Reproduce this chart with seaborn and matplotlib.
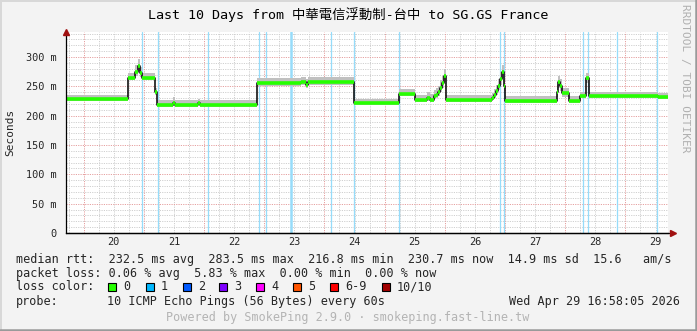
import matplotlib
matplotlib.use("Agg")
import matplotlib.pyplot as plt
import seaborn as sns
import pandas as pd
import numpy as np
from matplotlib.patches import Rectangle

# ---------------- data ----------------
# time in days of the month (April), step-post breakpoints
times = [19.707, 20.733, 20.85, 20.9, 20.933, 20.967, 21.183, 21.217, 21.49, 21.51,
         21.90, 21.93, 22.883, 23.617, 23.70, 23.73, 24.483, 25.233, 25.5, 25.70,
         25.75, 25.817, 25.85, 25.883, 25.917, 25.95, 25.983, 26.017, 26.783, 26.817,
         26.85, 26.883, 26.917, 26.95, 26.983, 27.0, 27.867, 27.883, 27.917, 27.95,
         28.067, 28.25, 28.35, 28.4, 29.533, 29.707]
median_ms = [228, 265, 275, 284, 272, 264, 240, 218, 221, 218,
             222, 218, 255, 257, 252, 257, 221, 237, 226, 230,
             227, 233, 236, 240, 248, 256, 267, 226, 230, 236,
             242, 250, 262, 275, 250, 225, 240, 257, 250, 238,
             225, 233, 265, 233, 231, 231]
smoke_hi = [236, 273, 286, 297, 283, 272, 248, 226, 231, 226,
            229, 226, 265, 266, 262, 266, 229, 246, 236, 240,
            237, 244, 247, 251, 260, 268, 280, 235, 239, 245,
            252, 262, 274, 286, 262, 234, 252, 268, 262, 248,
            233, 240, 272, 240, 238, 238]
smoke_lo = [225, 261, 268, 276, 266, 260, 235, 215, 217, 215,
            218, 215, 251, 253, 248, 253, 218, 234, 223, 225,
            223, 228, 230, 234, 241, 248, 257, 223, 226, 230,
            236, 243, 253, 264, 242, 222, 232, 248, 242, 232,
            222, 230, 256, 230, 228, 228]
loss_times = [20.967, 21.228, 22.072, 22.912, 23.022, 23.45, 24.105, 24.495,
              25.245, 26.922, 26.978, 28.295, 28.372, 28.855, 29.522]
loss_widths = [1, 1, 1, 1, 1, 2, 1, 1, 1, 1, 1, 1, 1, 1, 1]
day_labels = ["20", "21", "22", "23", "24", "25", "26", "27", "28", "29"]
y_ticks = [0, 50, 100, 150, 200, 250, 300]
y_tick_labels = ["0", "50 m", "100 m", "150 m", "200 m", "250 m", "300 m"]

loss_names = ["0", "1", "2", "3", "4", "5", "6-9", "10/10"]
loss_colors = ["#26ff00", "#00b8ff", "#0059ff", "#7e00ff", "#ff00ff", "#ff5500", "#ff0000", "#a10000"]

title = "Last 10 Days from 中華電信浮動制-台中 to SG.GS France"
line_rtt = "median rtt:  232.5 ms avg  283.5 ms max  216.8 ms min  230.7 ms now  14.9 ms sd  15.6   am/s"
line_loss = "packet loss: 0.06 % avg  5.83 % max  0.00 % min  0.00 % now"
probe_txt = "10 ICMP Echo Pings (56 Bytes) every 60s"
date_txt = "Wed Apr 29 16:58:05 2026"
powered_txt = "Powered by SmokePing 2.9.0 · smokeping.fast-line.tw"
watermark = "RRDTOOL / TOBI OETIKER"

# ---------------- figure ----------------
sns.set_style("white")
MONO = ["DejaVu Sans Mono", "Noto Sans CJK TC"]
plt.rcParams["font.family"] = MONO

W, H = 697, 331
BG = "#f3f3f3"
fig = plt.figure(figsize=(W / 100, H / 100), dpi=100, facecolor=BG)

def fx(px):
    return px / W

def fy(py):
    return 1 - py / H

# frame
fig.add_artist(plt.Line2D([fx(0.5), fx(0.5)], [0, 1], color="#d8d8d8", lw=1.4))
fig.add_artist(plt.Line2D([0, 1], [fy(0.5), fy(0.5)], color="#d8d8d8", lw=1.4))
fig.add_artist(plt.Line2D([0, 1], [fy(330), fy(330)], color="#9a9a9a", lw=1.8))
fig.add_artist(plt.Line2D([fx(696), fx(696)], [0, 1], color="#9a9a9a", lw=1.8))

x0, x1 = 66, 668
y0, y1 = 233, 32
ax = fig.add_axes([fx(x0), fy(y0), fx(x1 - x0), fy(y1) - fy(y0)])
ax.set_facecolor("white")
xmin, xmax = 19.707, 29.707
ymax = 342.6
ax.set_xlim(xmin, xmax)
ax.set_ylim(0, ymax)

# grid
for v in np.arange(10, ymax, 10):
    if v % 50 == 0:
        continue
    ax.axhline(v, color="#d0d0d0", lw=0.7, ls=(0, (1.2, 1.2)), zorder=0)
for v in range(50, 341, 50):
    ax.axhline(v, color="#e6a0a0", lw=0.7, ls=(0, (1.2, 1.2)), zorder=0.5)
for d in np.arange(19.75, xmax, 0.25):
    if abs(d - round(d)) < 1e-6:
        continue
    ax.axvline(d, color="#d0d0d0", lw=0.7, ls=(0, (1.2, 1.2)), zorder=0)
for d in range(20, 30):
    ax.axvline(d, color="#e6a0a0", lw=0.7, ls=(0, (1.2, 1.2)), zorder=0.5)

# loss lines
for t, w in zip(loss_times, loss_widths):
    ax.axvline(t, color="#96dcfa", lw=0.9 * w, zorder=1)

# smoke
df = pd.DataFrame({"t": times, "median": median_ms, "hi": smoke_hi, "lo": smoke_lo})
ax.fill_between(df["t"], df["lo"], df["hi"], step="post", color="#c0c0c0", lw=0, zorder=2)

# median line: black transitions, green levels
sns.lineplot(data=df, x="t", y="median", ax=ax, drawstyle="steps-post", color="black",
             lw=1.1, zorder=3, legend=False)
ax.hlines(df["median"][:-1], df["t"][:-1], df["t"][1:], color="#26ff00", lw=2.6, zorder=4)

# axes styling
for s in ["top", "right"]:
    ax.spines[s].set_visible(False)
for s in ["left", "bottom"]:
    ax.spines[s].set_color("black")
    ax.spines[s].set_linewidth(0.9)
    ax.spines[s].set_zorder(6)
ax.plot([0], [1.0], marker="^", color="#a01010", ms=4.5, transform=ax.transAxes, clip_on=False, zorder=7)
ax.plot([1.008], [0], marker=">", color="#a01010", ms=4.5, transform=ax.transAxes, clip_on=False, zorder=7)
ax.plot([0, 1.008], [0, 0], color="black", lw=0.9, transform=ax.transAxes, clip_on=False, zorder=6)

ax.set_yticks(y_ticks)
ax.set_yticklabels(y_tick_labels)
ax.set_xticks(range(20, 30))
ax.set_xticklabels([""] * 10)
ax.set_xticks([d + 0.5 for d in range(20, 30)], minor=True)
ax.set_xticklabels(day_labels, minor=True)
ax.tick_params(axis="x", which="major", length=2.5, width=0.7, color="#c06060", direction="out")
ax.tick_params(axis="x", which="minor", length=0, pad=3, labelsize=7.4)
ax.tick_params(axis="y", length=2.5, width=0.7, color="black", pad=4, labelsize=7.4)
ax.set_xlabel("")
ax.set_ylabel("")

# texts
fig.text(0.5, fy(15), title, ha="center", va="center", fontsize=9.6, family=MONO, color="black")
fig.text(fx(10), fy(132), "Seconds", rotation=90, ha="center", va="center", fontsize=8, family=MONO)
fig.text(fx(685), fy(4), watermark, rotation=-90, ha="center", va="top", fontsize=8,
         family=MONO, color="#b0b0b0")

FS = 8.5
fig.text(fx(16), fy(259), line_rtt, ha="left", va="center", fontsize=FS, family=MONO)
fig.text(fx(16), fy(273), line_loss, ha="left", va="center", fontsize=FS, family=MONO)
fig.text(fx(16), fy(287), "loss color:", ha="left", va="center", fontsize=FS, family=MONO)
box_x = [108, 146, 183, 219, 256, 293, 330, 382]
for bx, name, col in zip(box_x, loss_names, loss_colors):
    fig.patches.append(Rectangle((fx(bx), fy(291)), 8 / W, 8 / H, transform=fig.transFigure,
                                 facecolor=col, edgecolor="black", lw=0.8))
    fig.text(fx(bx + 15), fy(287), name, ha="left", va="center", fontsize=FS, family=MONO)
fig.text(fx(16), fy(301), "probe:", ha="left", va="center", fontsize=FS, family=MONO)
fig.text(fx(107), fy(301), probe_txt, ha="left", va="center", fontsize=FS, family=MONO)
fig.text(fx(680), fy(301), date_txt, ha="right", va="center", fontsize=FS, family=MONO)
fig.text(fx(348), fy(318), powered_txt, ha="center", va="center", fontsize=FS, family=MONO,
         color="#b4b4b4")

fig.savefig("out.png", dpi=100, facecolor=BG)
